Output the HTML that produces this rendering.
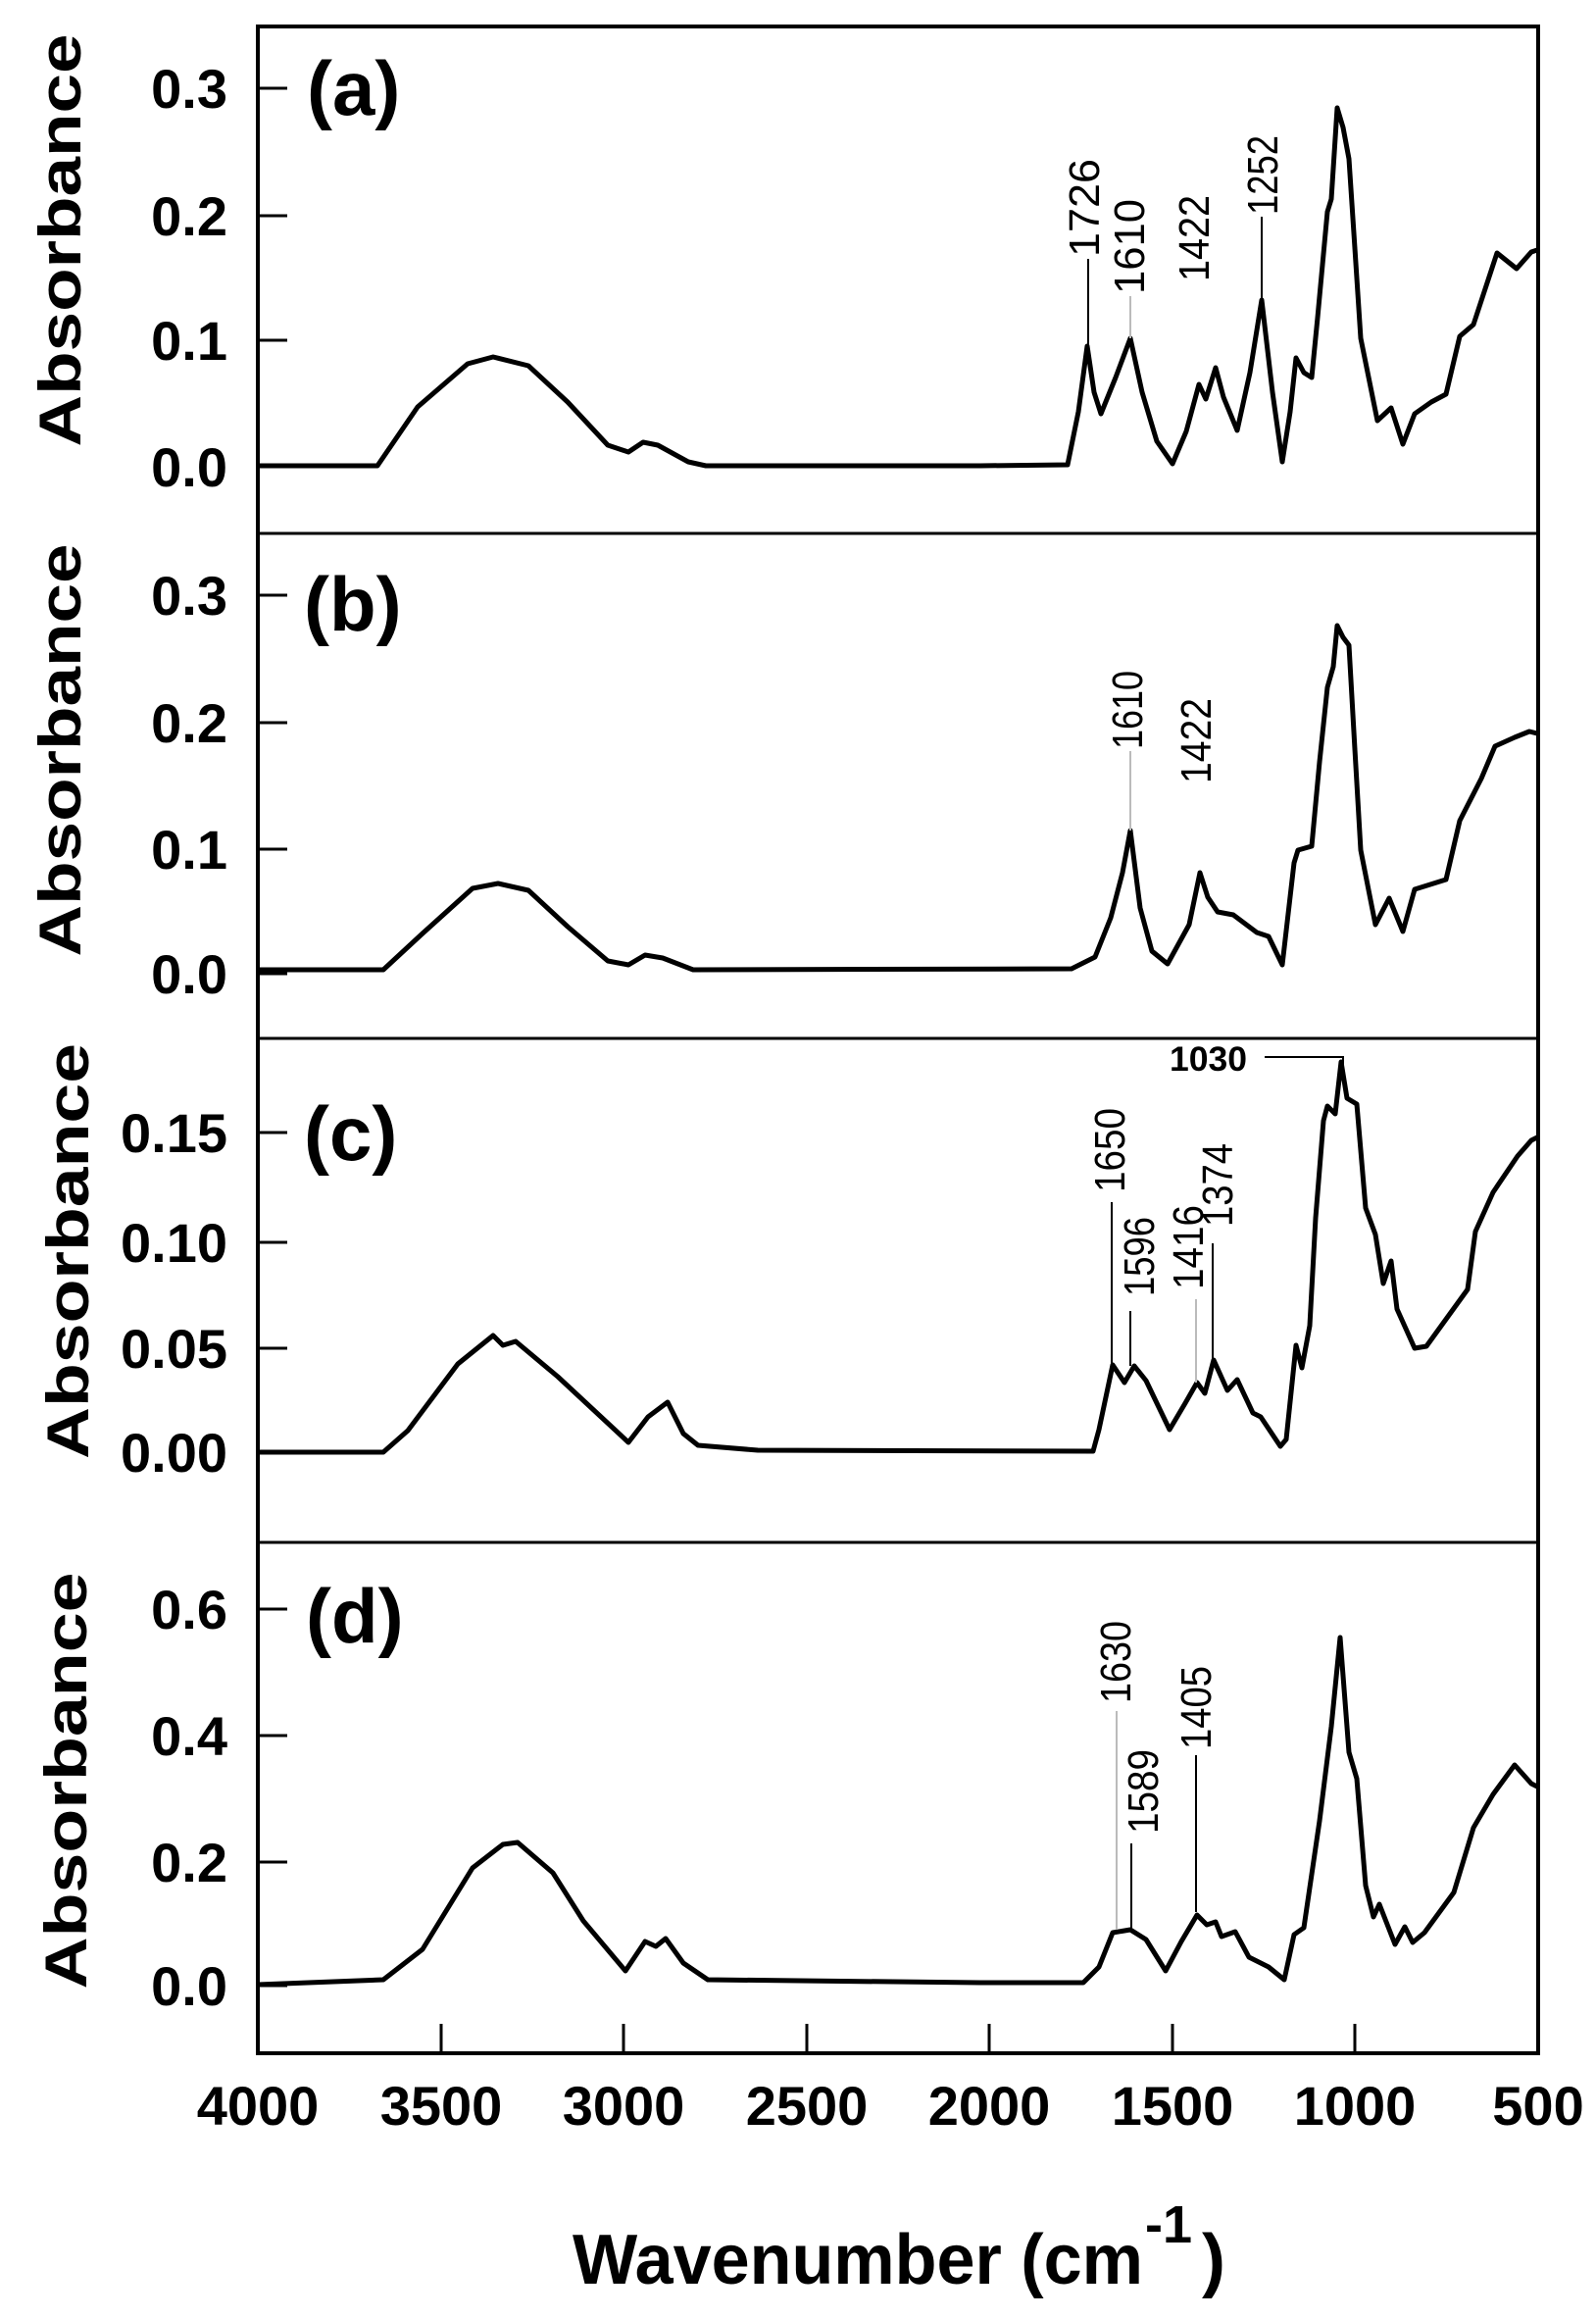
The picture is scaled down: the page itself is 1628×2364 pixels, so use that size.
<!DOCTYPE html>
<html><head><meta charset="utf-8"><style>
html,body{margin:0;padding:0;background:#fff;}
svg{display:block;}
text{font-family:"Liberation Sans",Arial,sans-serif;fill:#000;}
.tk{font-size:56px;font-weight:bold;}
.yl{font-size:60px;font-weight:bold;}
.pl{font-size:78px;font-weight:bold;}
.an{font-size:44px;}
.c{fill:none;stroke:#000;stroke-width:5;stroke-linejoin:round;}
</style></head><body>
<svg width="1628" height="2364" viewBox="0 0 1628 2364" xmlns="http://www.w3.org/2000/svg">
<rect width="1628" height="2364" fill="#fff"/>
<!-- frame -->
<rect x="263" y="27" width="1306" height="2067" fill="none" stroke="#000" stroke-width="4"/>
<line x1="263" y1="544" x2="1569" y2="544" stroke="#000" stroke-width="3"/>
<line x1="263" y1="1059" x2="1569" y2="1059" stroke="#000" stroke-width="3"/>
<line x1="263" y1="1573" x2="1569" y2="1573" stroke="#000" stroke-width="3"/>
<!-- y ticks -->
<g stroke="#000" stroke-width="3">
<line x1="263" y1="90" x2="293" y2="90"/><line x1="263" y1="220" x2="293" y2="220"/><line x1="263" y1="347" x2="293" y2="347"/><line x1="263" y1="476" x2="293" y2="476"/>
<line x1="263" y1="607" x2="293" y2="607"/><line x1="263" y1="737" x2="293" y2="737"/><line x1="263" y1="866" x2="293" y2="866"/><line x1="263" y1="993" x2="293" y2="993"/>
<line x1="263" y1="1155" x2="293" y2="1155"/><line x1="263" y1="1267" x2="293" y2="1267"/><line x1="263" y1="1375" x2="293" y2="1375"/><line x1="263" y1="1481" x2="293" y2="1481"/>
<line x1="263" y1="1641" x2="293" y2="1641"/><line x1="263" y1="1770" x2="293" y2="1770"/><line x1="263" y1="1899" x2="293" y2="1899"/><line x1="263" y1="2025" x2="293" y2="2025"/>
<line x1="450" y1="2094" x2="450" y2="2064"/><line x1="636" y1="2094" x2="636" y2="2064"/><line x1="823" y1="2094" x2="823" y2="2064"/><line x1="1009" y1="2094" x2="1009" y2="2064"/><line x1="1196" y1="2094" x2="1196" y2="2064"/><line x1="1382" y1="2094" x2="1382" y2="2064"/>
</g>
<g class="tk" text-anchor="end">
<text x="232" y="110">0.3</text><text x="232" y="240">0.2</text><text x="232" y="367">0.1</text><text x="232" y="496">0.0</text>
<text x="232" y="627">0.3</text><text x="232" y="757">0.2</text><text x="232" y="886">0.1</text><text x="232" y="1013">0.0</text>
<text x="232" y="1175">0.15</text><text x="232" y="1287">0.10</text><text x="232" y="1395">0.05</text><text x="232" y="1501">0.00</text>
<text x="232" y="1661">0.6</text><text x="232" y="1790">0.4</text><text x="232" y="1919">0.2</text><text x="232" y="2045">0.0</text>
</g>
<g class="tk" text-anchor="middle">
<text x="263" y="2167">4000</text><text x="450" y="2167">3500</text><text x="636" y="2167">3000</text><text x="823" y="2167">2500</text><text x="1009" y="2167">2000</text><text x="1196" y="2167">1500</text><text x="1382" y="2167">1000</text><text x="1569" y="2167">500</text>
</g>
<text x="584" y="2329" style="font-size:72px;font-weight:bold" textLength="582" lengthAdjust="spacingAndGlyphs">Wavenumber (cm</text>
<text x="1168" y="2287" style="font-size:54px;font-weight:bold">-1</text>
<text x="1226" y="2329" style="font-size:72px;font-weight:bold">)</text>
<!-- y labels -->
<text class="yl" transform="translate(82,245) rotate(-90)" text-anchor="middle" textLength="421" lengthAdjust="spacingAndGlyphs">Absorbance</text>
<text class="yl" transform="translate(82,765) rotate(-90)" text-anchor="middle" textLength="421" lengthAdjust="spacingAndGlyphs">Absorbance</text>
<text class="yl" transform="translate(90,1276) rotate(-90)" text-anchor="middle" textLength="424" lengthAdjust="spacingAndGlyphs">Absorbance</text>
<text class="yl" transform="translate(88,1816) rotate(-90)" text-anchor="middle" textLength="425" lengthAdjust="spacingAndGlyphs">Absorbance</text>
<!-- panel labels -->
<text class="pl" x="313" y="117">(a)</text>
<text class="pl" x="310" y="643">(b)</text>
<text class="pl" x="310" y="1183">(c)</text>
<text class="pl" x="312" y="1675">(d)</text>
<!-- curves -->
<polyline class="c" points="263,475 385,475 426,415 477,371 503,364 539,373 579,410 620,454 641,461 656,451 671,454 702,471 720,475 1000,475 1089,474 1100,420 1109,353 1116,400 1123,422 1138,385 1153,345 1165,400 1180,450 1196,473 1210,440 1223,392 1230,407 1240,375 1248,405 1262,439 1275,380 1287,306 1298,400 1308,471 1316,420 1322,365 1330,380 1338,385 1344,324 1354,216 1358,203 1364,110 1370,130 1376,162 1382,253 1388,345 1405,429 1419,416 1431,453 1443,422 1460,410 1475,402 1489,343 1503,331 1527,258 1547,274 1562,257 1568,255"/>
<polyline class="c" points="263,989 391,989 431,952 482,906 508,901 539,908 579,945 620,980 641,984 658,974 676,977 707,989 1093,988 1117,976 1133,936 1145,890 1153,847 1163,926 1175,970 1191,983 1213,943 1224,890 1232,915 1242,930 1258,933 1282,951 1294,955 1308,984 1320,880 1324,867 1338,863 1346,777 1354,701 1360,680 1364,638 1370,650 1376,658 1382,764 1388,867 1403,943 1417,916 1431,950 1443,907 1475,897 1489,837 1511,794 1525,761 1545,752 1560,746 1568,748"/>
<polyline class="c" points="263,1481 391,1481 416,1459 467,1391 503,1362 513,1372 526,1368 569,1404 641,1471 661,1445 681,1430 697,1462 712,1474 773,1479 1115,1480 1121,1458 1135,1392 1147,1410 1157,1393 1169,1408 1193,1458 1209,1431 1221,1410 1229,1421 1238,1387 1252,1418 1262,1407 1278,1441 1286,1445 1306,1475 1312,1468 1322,1372 1328,1395 1336,1352 1342,1242 1350,1143 1354,1128 1362,1136 1368,1083 1374,1120 1384,1126 1393,1232 1403,1259 1411,1309 1419,1286 1425,1335 1443,1375 1455,1373 1497,1315 1505,1256 1523,1216 1548,1179 1562,1163 1568,1160"/>
<polyline class="c" points="263,2024 391,2019 431,1988 482,1905 513,1881 528,1879 564,1910 595,1959 638,2010 658,1980 669,1985 679,1977 697,2002 722,2019 1000,2022 1105,2022 1121,2006 1135,1971 1153,1968 1169,1978 1189,2010 1205,1980 1221,1953 1231,1963 1240,1960 1246,1975 1260,1970 1274,1996 1294,2006 1310,2019 1320,1973 1330,1966 1346,1857 1358,1761 1367,1670 1376,1787 1384,1814 1393,1923 1401,1955 1407,1942 1423,1983 1433,1965 1441,1981 1453,1971 1483,1930 1503,1864 1523,1830 1545,1800 1562,1819 1568,1822"/>
<!-- annotation lines -->
<g stroke="#000" stroke-width="2">
<line x1="1110" y1="264" x2="1110" y2="353"/>
<line x1="1287" y1="221" x2="1287" y2="306"/>
<line x1="1134" y1="1226" x2="1134" y2="1390"/>
<line x1="1153" y1="1337" x2="1153" y2="1393"/>
<line x1="1237" y1="1268" x2="1237" y2="1387"/>
<polyline fill="none" points="1290,1078 1370,1078 1370,1088"/>
<line x1="1154" y1="1880" x2="1154" y2="1968"/>
<line x1="1220" y1="1790" x2="1220" y2="1950"/>
</g>
<g stroke="#bbb" stroke-width="2">
<line x1="1153" y1="302" x2="1153" y2="345"/>
<line x1="1153" y1="766" x2="1153" y2="847"/>
<line x1="1220" y1="1325" x2="1220" y2="1410"/>
<line x1="1139" y1="1745" x2="1139" y2="1968"/>
</g>
<g class="an">
<text transform="translate(1121,262) rotate(-90)" textLength="100" lengthAdjust="spacingAndGlyphs">1726</text>
<text transform="translate(1167,300) rotate(-90)" textLength="97" lengthAdjust="spacingAndGlyphs">1610</text>
<text transform="translate(1233,287) rotate(-90)" textLength="88" lengthAdjust="spacingAndGlyphs">1422</text>
<text transform="translate(1303,219) rotate(-90)" textLength="81" lengthAdjust="spacingAndGlyphs">1252</text>
<text transform="translate(1165,764) rotate(-90)" textLength="80" lengthAdjust="spacingAndGlyphs">1610</text>
<text transform="translate(1235,799) rotate(-90)" textLength="87" lengthAdjust="spacingAndGlyphs">1422</text>
<text transform="translate(1147,1216) rotate(-90)" textLength="86" lengthAdjust="spacingAndGlyphs">1650</text>
<text transform="translate(1177,1322) rotate(-90)" textLength="81" lengthAdjust="spacingAndGlyphs">1596</text>
<text transform="translate(1227,1315) rotate(-90)" textLength="86" lengthAdjust="spacingAndGlyphs">1416</text>
<text transform="translate(1257,1251) rotate(-90)" textLength="85" lengthAdjust="spacingAndGlyphs">1374</text>
<text transform="translate(1153,1737) rotate(-90)" textLength="84" lengthAdjust="spacingAndGlyphs">1630</text>
<text transform="translate(1181,1870) rotate(-90)" textLength="86" lengthAdjust="spacingAndGlyphs">1589</text>
<text transform="translate(1235,1784) rotate(-90)" textLength="85" lengthAdjust="spacingAndGlyphs">1405</text>
</g>
<text x="1193" y="1092" style="font-size:35px;font-weight:bold" textLength="79" lengthAdjust="spacingAndGlyphs">1030</text>
</svg>
</body></html>
